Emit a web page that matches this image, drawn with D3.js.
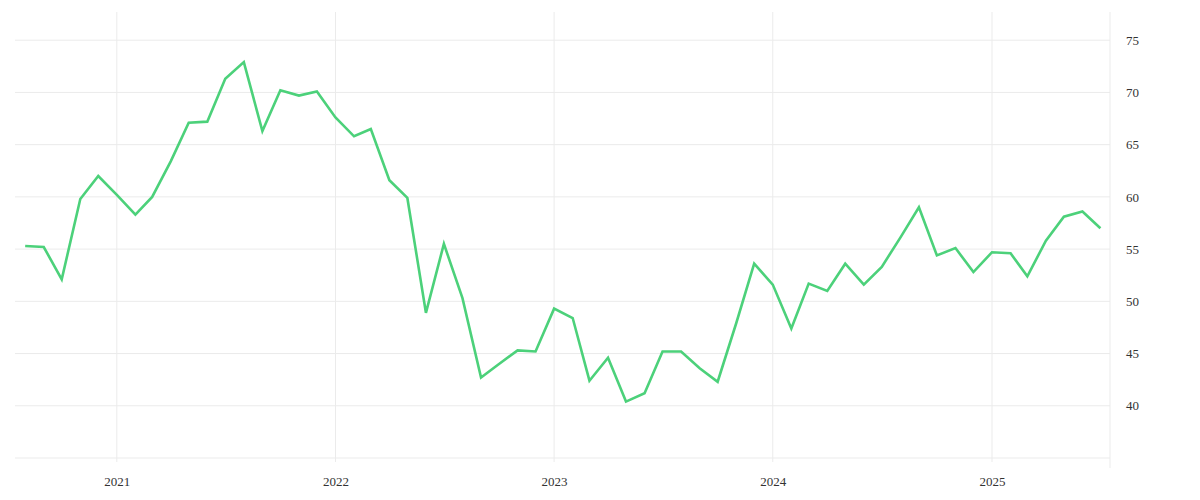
<!DOCTYPE html>
<html>
<head>
<meta charset="utf-8">
<script src="https://cdn.jsdelivr.net/npm/d3@7"></script>
<style>
  html, body { margin: 0; padding: 0; background: #fff; }
  svg { display: block; }
  .tick text { font-family: "Liberation Serif", "DejaVu Serif", serif; font-size: 13px; fill: #333; }
</style>
</head>
<body>
<svg id="viz" width="1200" height="500"></svg>
<script>
// monthly readings, Aug 2020 .. Jul 2025
const startMonth = "2020-08";
const values = [
    55.3, 55.2, 52.1, 59.8, 62.0,
    60.2, 58.3, 60.0, 63.4, 67.1, 67.2, 71.3, 72.9, 66.3, 70.2, 69.7, 70.1,
    67.6, 65.8, 66.5, 61.6, 59.9, 48.9, 55.5, 50.3, 42.7, 44.0, 45.3, 45.2,
    49.3, 48.4, 42.4, 44.6, 40.4, 41.2, 45.2, 45.2, 43.6, 42.3, 47.9, 53.6,
    51.6, 47.4, 51.7, 51.0, 53.6, 51.6, 53.3, 56.1, 59.0, 54.4, 55.1, 52.8,
    54.7, 54.6, 52.4, 55.8, 58.1, 58.6, 57.0
];
const yTicks = [40, 45, 50, 55, 60, 65, 70, 75];
const xTickYears = [2021, 2022, 2023, 2024, 2025];

const parse = d3.timeParse("%Y-%m");
const first = parse(startMonth);
const data = values.map((v, i) => ({date: d3.timeMonth.offset(first, i), value: v}));

const svg = d3.select("#viz");
const plotLeft = 15, plotRight = 1110, plotTop = 12, plotBottom = 458;

const x = d3.scaleTime()
    .domain([d3.timeDay.offset(data[0].date, -17), d3.timeDay.offset(data[data.length - 1].date, 16)])
    .range([plotLeft, plotRight]);
const y = d3.scaleLinear()
    .domain([35, 77.7])
    .range([plotBottom, plotTop]);

// horizontal grid
svg.append("g")
    .selectAll("line")
    .data([35].concat(yTicks))
    .enter()
    .append("line")
    .attr("x1", plotLeft)
    .attr("x2", plotRight)
    .attr("y1", (d) => y(d))
    .attr("y2", (d) => y(d))
    .attr("stroke", "#ebebeb")
    .attr("stroke-width", 1);

// vertical grid
svg.append("g")
    .selectAll("line")
    .data(xTickYears)
    .enter()
    .append("line")
    .attr("x1", (d) => x(new Date(d, 0, 1)))
    .attr("x2", (d) => x(new Date(d, 0, 1)))
    .attr("y1", plotTop)
    .attr("y2", plotBottom + 4)
    .attr("stroke", "#ebebeb")
    .attr("stroke-width", 1);

// right border
svg.append("line")
    .attr("x1", plotRight).attr("x2", plotRight)
    .attr("y1", plotTop).attr("y2", plotBottom + 10)
    .attr("stroke", "#ebebeb");

const xAxis = svg.append("g")
    .attr("transform", `translate(0,${plotBottom})`)
    .call(d3.axisBottom(x)
        .tickValues(xTickYears.map((d) => new Date(d, 0, 1)))
        .tickFormat(d3.timeFormat("%Y"))
        .tickSize(0)
        .tickPadding(19));
xAxis.select(".domain").remove();

const yAxis = svg.append("g")
    .attr("transform", `translate(${plotRight},0)`)
    .call(d3.axisRight(y)
        .tickValues(yTicks)
        .tickSize(0)
        .tickPadding(16));
yAxis.select(".domain").remove();

const line = d3.line()
    .x((d) => x(d.date))
    .y((d) => y(d.value));

svg.append("path")
    .datum(data)
    .attr("d", line)
    .attr("fill", "none")
    .attr("stroke", "#4cd17a")
    .attr("stroke-width", 2.6)
    .attr("stroke-linejoin", "miter");
</script>
</body>
</html>
